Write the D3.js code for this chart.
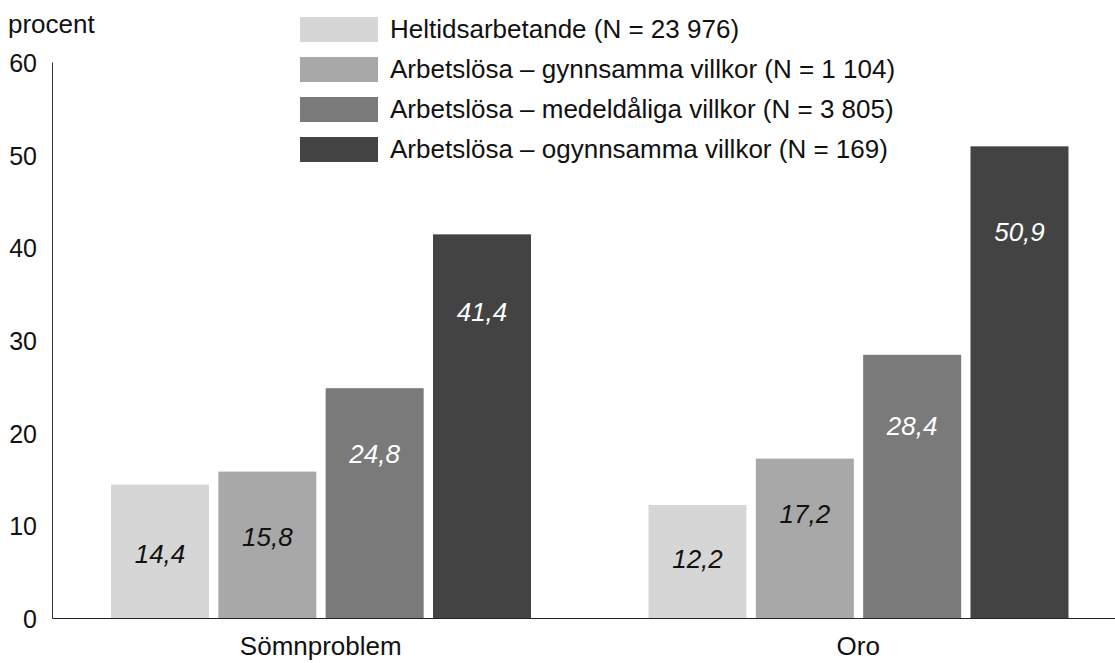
<!DOCTYPE html>
<html>
<head>
<meta charset="utf-8">
<script src="https://cdn.jsdelivr.net/npm/d3@7"></script>
<style>
  body { margin: 0; background: #fff; }
  text { font-family: "Liberation Sans", Arial, sans-serif; }
</style>
</head>
<body>
<div id="chart"></div>
<script>
// data
const categories = ["Sömnproblem", "Oro"];
const seriesNames = [
  "Heltidsarbetande (N = 23 976)",
  "Arbetslösa – gynnsamma villkor (N = 1 104)",
  "Arbetslösa – medeldåliga villkor (N = 3 805)",
  "Arbetslösa – ogynnsamma villkor (N = 169)"
];
const heltid = [14.4, 12.2];
const gynnsamma = [15.8, 17.2];
const medeldaliga = [24.8, 28.4];
const ogynnsamma = [41.4, 50.9];
const yTicks = [0, 10, 20, 30, 40, 50, 60];

const seriesValues = [heltid, gynnsamma, medeldaliga, ogynnsamma];
const colors = ["#d6d6d6", "#a8a8a8", "#7a7a7a", "#434343"];
const labelColors = ["#111", "#111", "#fff", "#fff"];
// how far below the bar top each value label sits (px), per series then category
const labelDrop = [[78, 63], [74, 64], [75, 80], [87, 95]];

const width = 1115, height = 663;
const svg = d3.select("#chart").append("svg")
    .attr("width", width)
    .attr("height", height);

const svFormat = d3.formatLocale({decimal: ",", thousands: " ", grouping: [3], currency: ["", " kr"]}).format(".1f");

// scales
const y = d3.scaleLinear().domain([0, 60]).range([618, 62]);
const x0 = d3.scaleBand().domain(categories).range([52, 1127]).padding(0);
const x1 = d3.scaleBand().domain(d3.range(seriesNames.length)).range([59, 479]).paddingInner(0.087);

// bars
const rows = [];
categories.forEach(function(c, ci) {
  seriesValues.forEach(function(vals, si) {
    rows.push({cat: c, ci: ci, si: si, value: vals[ci]});
  });
});

svg.append("g").selectAll("rect")
  .data(rows)
  .enter().append("rect")
    .attr("x", function(d) { return x0(d.cat) + x1(d.si); })
    .attr("y", function(d) { return y(d.value); })
    .attr("width", x1.bandwidth())
    .attr("height", function(d) { return y(0) - y(d.value); })
    .attr("fill", function(d) { return colors[d.si]; });

// value labels
svg.append("g").selectAll("text")
  .data(rows)
  .enter().append("text")
    .attr("x", function(d) { return x0(d.cat) + x1(d.si) + x1.bandwidth() / 2; })
    .attr("y", function(d) { return y(d.value) + labelDrop[d.si][d.ci]; })
    .attr("text-anchor", "middle")
    .attr("font-style", "italic")
    .attr("font-size", 26)
    .attr("fill", function(d) { return labelColors[d.si]; })
    .text(function(d) { return svFormat(d.value); });

// y axis
const yAxis = svg.append("g")
    .attr("transform", "translate(52,0)")
    .call(d3.axisLeft(y).tickValues(yTicks).tickSize(0).tickPadding(15));
yAxis.select(".domain").attr("stroke", "#333");
yAxis.selectAll("text")
    .attr("font-size", 25)
    .attr("font-family", "Liberation Sans, Arial, sans-serif")
    .attr("fill", "#111")
    .attr("dy", "0.38em");

// x axis
const xAxis = svg.append("g")
    .attr("transform", "translate(0," + y(0) + ")")
    .call(d3.axisBottom(x0).tickSize(0).tickPadding(19));
xAxis.select(".domain").attr("stroke", "#222");
xAxis.selectAll("text")
    .attr("font-size", 26)
    .attr("font-family", "Liberation Sans, Arial, sans-serif")
    .attr("fill", "#111");

// unit label
svg.append("text")
    .attr("x", 8)
    .attr("y", 33)
    .attr("font-size", 26)
    .attr("fill", "#111")
    .text("procent");

// legend
const legend = svg.append("g").selectAll("g")
  .data(seriesNames)
  .enter().append("g")
    .attr("transform", function(d, i) { return "translate(300," + (17 + i * 40) + ")"; });

legend.append("rect")
    .attr("width", 78)
    .attr("height", 25)
    .attr("fill", function(d, i) { return colors[i]; });

legend.append("text")
    .attr("x", 90)
    .attr("y", 21)
    .attr("font-size", 26)
    .attr("fill", "#111")
    .text(function(d) { return d; });
</script>
</body>
</html>
